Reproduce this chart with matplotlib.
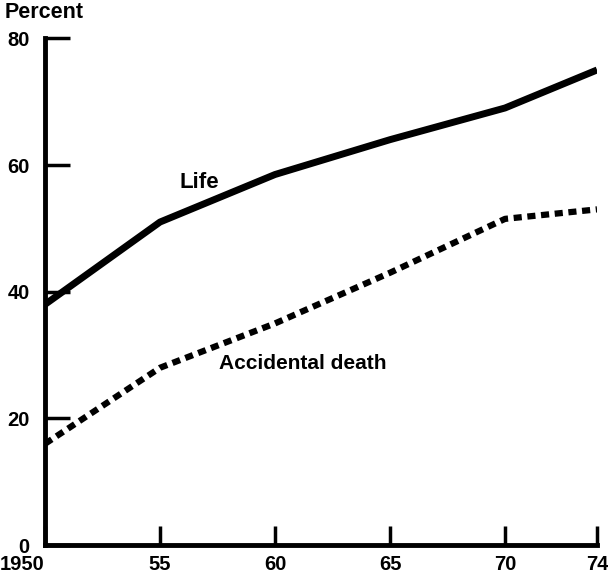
import matplotlib.pyplot as plt

# values
years = [1950, 1955, 1960, 1965, 1970, 1974]
life = [38, 51, 58.5, 64, 69, 75]
accidental = [16, 28, 35, 43, 51.5, 53]
xtick_vals = [1950, 1955, 1960, 1965, 1970, 1974]
xtick_labels = ['1950', '55', '60', '65', '70', '74']
ytick_vals = [0, 20, 40, 60, 80]

plt.rcParams['font.family'] = ['Liberation Sans', 'DejaVu Sans']
plt.rcParams['font.weight'] = 'bold'

fig = plt.figure(figsize=(6.08, 5.8), dpi=100)
ax = fig.add_axes([0.074, 0.060, 0.908, 0.874])

ax.plot(years, life, color='black', lw=5, solid_capstyle='butt', solid_joinstyle='round')
ax.plot(years, accidental, color='black', lw=4.5, linestyle=(0, (1.3, 0.9)),
        dash_capstyle='butt')

ax.text(1956.7, 57.2, 'Life', fontsize=16, fontweight='bold', ha='center', va='center')
ax.text(1961.2, 28.6, 'Accidental death', fontsize=15, fontweight='bold', ha='center', va='center')

ax.set_xlim(1950, 1974)
ax.set_ylim(0, 80)
ax.set_xticks(xtick_vals)
ax.set_xticklabels(xtick_labels, fontsize=14.5, fontweight='bold')
ax.get_xticklabels()[0].set_horizontalalignment('right')
ax.set_yticks(ytick_vals)
ax.set_yticklabels([str(v) for v in ytick_vals], fontsize=14.5, fontweight='bold')

ax.tick_params(axis='x', direction='in', length=14, width=2.5, pad=7)
ax.tick_params(axis='y', direction='in', length=18, width=2.5, pad=11)

for s in ['top', 'right']:
    ax.spines[s].set_visible(False)
for s in ['left', 'bottom']:
    ax.spines[s].set_linewidth(3.5)

fig.text(0.008, 0.978, 'Percent', fontsize=15.5, fontweight='bold', ha='left', va='center')

fig.savefig('out.png', dpi=100)
